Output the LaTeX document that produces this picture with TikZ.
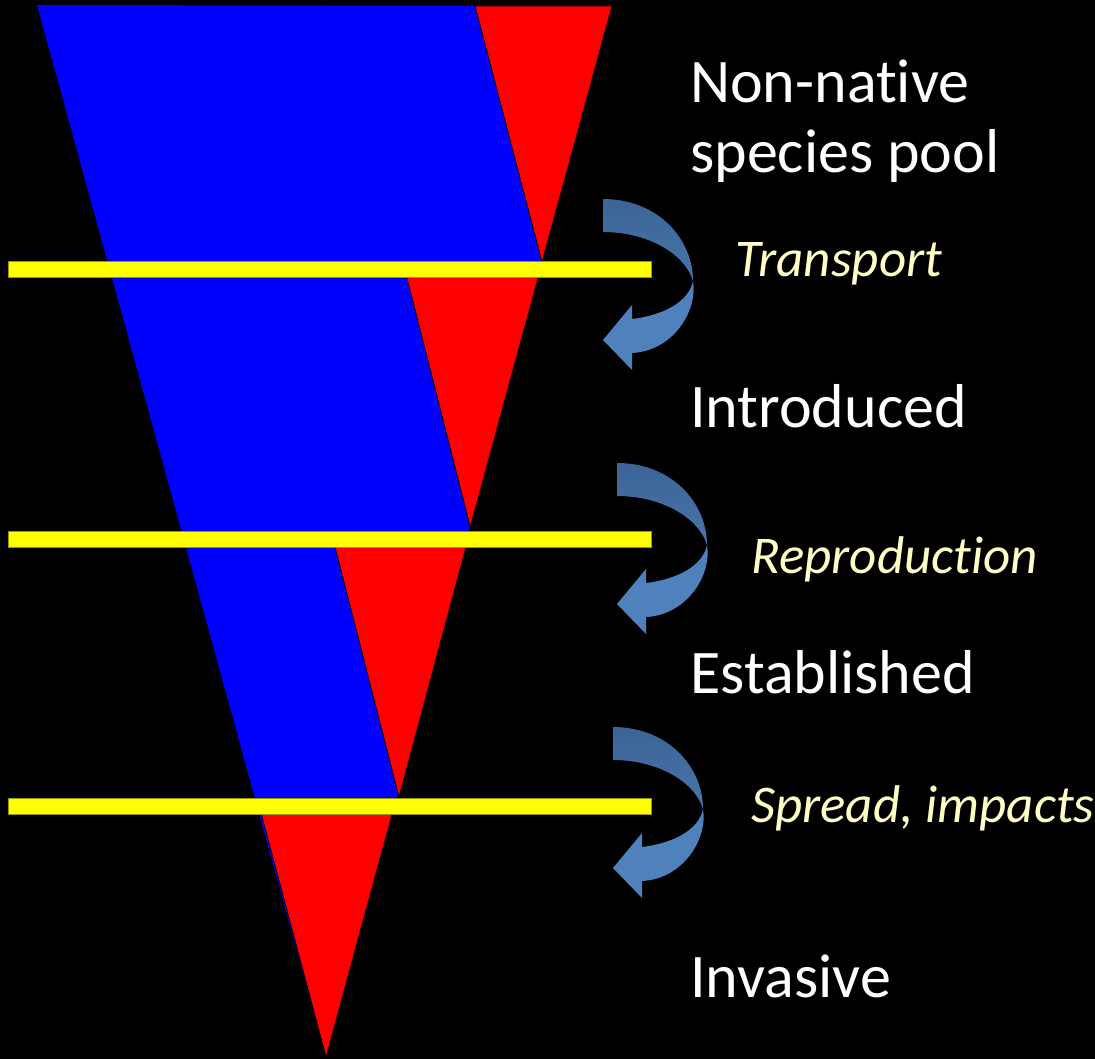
\documentclass[tikz,border=0pt]{standalone}
\usepackage{fontspec}
\setmainfont{Carlito}[Ligatures=NoCommon]
\definecolor{funnelblue}{RGB}{0,0,255}
\definecolor{funnelred}{RGB}{255,0,0}
\definecolor{baryellow}{RGB}{255,255,0}
\definecolor{baredge}{RGB}{150,150,0}
\definecolor{steptext}{RGB}{255,255,196}
\definecolor{arrowback}{RGB}{60,100,150}
\definecolor{arrowbacklow}{RGB}{72,117,170}
\definecolor{arrowfront}{RGB}{79,129,189}
\tikzset{
  stage/.style={text=white, anchor=base west, inner sep=0pt, align=left,
    font=\fontsize{62}{70}\selectfont},
  process/.style={text=steptext, anchor=base west, inner sep=0pt,
    font=\fontsize{53}{60}\selectfont\itshape},
  bar/.style={fill=baryellow, draw=baredge, line width=0.6pt},
  redpart/.style={fill=funnelred, draw=black, line width=0.8pt},
  bendarrow/.pic={
    \fill[top color=arrowback, bottom color=arrowbacklow]
      (0,0) .. controls (55,0) and (90,40) .. (90,82)
      .. controls (82,55) and (45,33) .. (0,33) -- cycle;
    \fill[arrowfront]
      (90,82) .. controls (95,112) and (70,152) .. (29,154)
      -- (29,171) -- (0,141) -- (29,106) -- (29,120)
      .. controls (62,116) and (86,102) .. (90,82) -- cycle;
  }
}
\begin{document}
\begin{tikzpicture}[x=1pt,y=-1pt]
\fill[black] (0,0) rectangle (1095,1059);
\useasboundingbox (0,0) rectangle (1095,1059);
% funnel
\fill[funnelblue] (37,5) -- (612,6) -- (326,1057) -- cycle;
\filldraw[redpart] (475,6) -- (612,6) -- (542,262) -- cycle;
\filldraw[redpart] (406.7,277) -- (538.3,277) -- (470.2,527) -- cycle;
\filldraw[redpart] (335,547) -- (466,547) -- (399,797) -- cycle;
\filldraw[redpart] (261,813) -- (392.4,813) -- (326,1057) -- cycle;
% barriers
\filldraw[bar] (8,261) rectangle (651,277);
\filldraw[bar] (8,531) rectangle (651,547);
\filldraw[bar] (8,798) rectangle (651,814);
% arrows
\pic at (603,199) {bendarrow};
\pic at (617,463) {bendarrow};
\pic at (613,727) {bendarrow};
% stages
\node[stage] (pool) at (690,173) {Non-native\\species pool};
\node[stage] (intro) at (690,427) {Introduced};
\node[stage] (estab) at (690,693) {Established};
\node[stage] (invas) at (690,997) {Invasive};
% steps
\node[process] (transp) at (735,277) {Transport};
\node[process] (repro) at (751,573) {Reproduction};
\node[process] (spread) at (751,822) {Spread, impacts};
\end{tikzpicture}
\end{document}
